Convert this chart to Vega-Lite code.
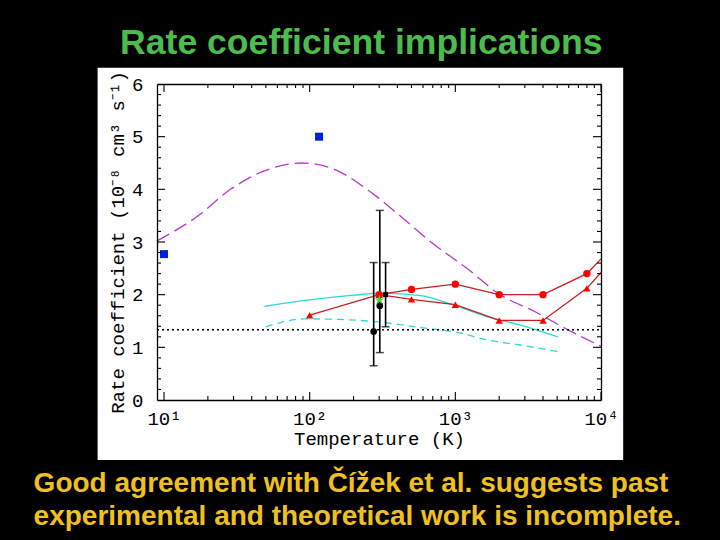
{
  "$schema": "https://vega.github.io/schema/vega-lite/v6.json",
  "background": "black",
  "padding": {"left": 33, "top": 26, "right": 60, "bottom": 20},
  "title": {"text": "Rate coefficient implications", "color": "#4cbc4c", "font": "Liberation Sans", "fontSize": 35.6, "fontWeight": "bold", "anchor": "middle", "frame": "bounds", "offset": 6, "dx": 4},
  "config": {"view": {"stroke": null}, "axis": {"grid": false}},
  "datasets": {
    "panel": [{"panel": "background"}],
    "xticks": [
      {"T": 10, "kind": "major"}, {"T": 100, "kind": "major"}, {"T": 1000, "kind": "major"}, {"T": 10000, "kind": "major"},
      {"T": 20, "kind": "minor"}, {"T": 30, "kind": "minor"}, {"T": 40, "kind": "minor"}, {"T": 50, "kind": "minor"},
      {"T": 60, "kind": "minor"}, {"T": 70, "kind": "minor"}, {"T": 80, "kind": "minor"}, {"T": 90, "kind": "minor"},
      {"T": 200, "kind": "minor"}, {"T": 300, "kind": "minor"}, {"T": 400, "kind": "minor"}, {"T": 500, "kind": "minor"},
      {"T": 600, "kind": "minor"}, {"T": 700, "kind": "minor"}, {"T": 800, "kind": "minor"}, {"T": 900, "kind": "minor"},
      {"T": 2000, "kind": "minor"}, {"T": 3000, "kind": "minor"}, {"T": 4000, "kind": "minor"}, {"T": 5000, "kind": "minor"},
      {"T": 6000, "kind": "minor"}, {"T": 7000, "kind": "minor"}, {"T": 8000, "kind": "minor"}, {"T": 9000, "kind": "minor"}
    ],
    "yticks": [
      {"v": 1, "kind": "major"}, {"v": 2, "kind": "major"}, {"v": 3, "kind": "major"}, {"v": 4, "kind": "major"}, {"v": 5, "kind": "major"},
      {"v": 0.2, "kind": "minor"}, {"v": 0.4, "kind": "minor"}, {"v": 0.6, "kind": "minor"}, {"v": 0.8, "kind": "minor"},
      {"v": 1.2, "kind": "minor"}, {"v": 1.4, "kind": "minor"}, {"v": 1.6, "kind": "minor"}, {"v": 1.8, "kind": "minor"},
      {"v": 2.2, "kind": "minor"}, {"v": 2.4, "kind": "minor"}, {"v": 2.6, "kind": "minor"}, {"v": 2.8, "kind": "minor"},
      {"v": 3.2, "kind": "minor"}, {"v": 3.4, "kind": "minor"}, {"v": 3.6, "kind": "minor"}, {"v": 3.8, "kind": "minor"},
      {"v": 4.2, "kind": "minor"}, {"v": 4.4, "kind": "minor"}, {"v": 4.6, "kind": "minor"}, {"v": 4.8, "kind": "minor"},
      {"v": 5.2, "kind": "minor"}, {"v": 5.4, "kind": "minor"}, {"v": 5.6, "kind": "minor"}, {"v": 5.8, "kind": "minor"}
    ],
    "magenta": [
      {"T": 8.95, "k": 3.02}, {"T": 16.8, "k": 3.48}, {"T": 28.6, "k": 4.0}, {"T": 48.9, "k": 4.35},
      {"T": 88, "k": 4.5}, {"T": 142, "k": 4.4}, {"T": 242, "k": 4.02}, {"T": 413, "k": 3.51},
      {"T": 680, "k": 3.0}, {"T": 1200, "k": 2.5}, {"T": 2030, "k": 2.0}, {"T": 3500, "k": 1.68},
      {"T": 5960, "k": 1.33}, {"T": 10000, "k": 1.02}
    ],
    "cyanSolid": [
      {"T": 49, "k": 1.78}, {"T": 100, "k": 1.9}, {"T": 200, "k": 1.99}, {"T": 316, "k": 2.03},
      {"T": 580, "k": 1.98}, {"T": 1000, "k": 1.79}, {"T": 1670, "k": 1.58}, {"T": 3000, "k": 1.4},
      {"T": 5050, "k": 1.2}
    ],
    "cyanDashed": [
      {"T": 50, "k": 1.39}, {"T": 92, "k": 1.54}, {"T": 160, "k": 1.53}, {"T": 277, "k": 1.49},
      {"T": 600, "k": 1.37}, {"T": 1000, "k": 1.29}, {"T": 1670, "k": 1.14}, {"T": 3000, "k": 1.03},
      {"T": 5050, "k": 0.92}
    ],
    "dotted": [{"T": 8.95, "k": 1.335}, {"T": 10000, "k": 1.335}],
    "redCircles": [
      {"T": 300, "k": 2.0}, {"T": 500, "k": 2.1}, {"T": 1000, "k": 2.2}, {"T": 2000, "k": 2.0},
      {"T": 4000, "k": 2.0}, {"T": 8000, "k": 2.4}, {"T": 10000, "k": 2.68}
    ],
    "redTriangles": [
      {"T": 100, "k": 1.61}, {"T": 300, "k": 2.0}, {"T": 500, "k": 1.91}, {"T": 1000, "k": 1.81},
      {"T": 2000, "k": 1.51}, {"T": 4000, "k": 1.51}, {"T": 8000, "k": 2.12}, {"T": 10000, "k": 2.42}
    ],
    "blueSquares": [{"T": 10, "k": 2.77}, {"T": 116, "k": 5.0}],
    "expts": [
      {"T": 275, "k": 1.3, "lo": 0.65, "hi": 2.61, "sym": "circle"},
      {"T": 303, "k": 1.79, "lo": 0.9, "hi": 3.6, "sym": "circle"},
      {"T": 332, "k": 2.0, "lo": 1.39, "hi": 2.61, "sym": "square"}
    ],
    "greenStar": [{"T": 301, "k": 1.9}]
  },
  "vconcat": [
    {
      "width": 444,
      "height": 316,
      "title": {
        "text": ["Good agreement with Čížek et al. suggests past", "experimental and theoretical work is incomplete."],
        "orient": "bottom", "anchor": "start", "frame": "bounds", "dx": -64, "offset": 10,
        "color": "#f0c020", "font": "Liberation Sans", "fontSize": 28, "fontWeight": "bold", "lineHeight": 33, "align": "left"
      },
      "resolve": {"axis": {"x": "independent", "y": "independent"}},
      "layer": [
        {
          "data": {"name": "panel"},
          "mark": {"type": "rect", "fill": "white"},
          "encoding": {
            "x": {"datum": 3.5, "type": "quantitative", "scale": {"type": "log", "domain": [8.95, 10000], "nice": false},
              "axis": {"orient": "bottom", "values": [10, 100, 1000, 10000], "ticks": false, "domain": true, "domainColor": "black", "domainWidth": 1.3,
                "labels": true, "labelExpr": "'10' + ['','¹','²','³','⁴'][round(log(datum.value)/LN10)]", "labelFont": "Liberation Mono", "labelFontSize": 19, "labelColor": "black", "labelPadding": 9, "labelFlush": false, "labelOverlap": false,
                "title": "Temperature (K)", "titleFont": "Liberation Mono", "titleFontSize": 19, "titleFontWeight": "normal", "titleColor": "black", "titlePadding": 1, "zindex": 1}},
            "x2": {"datum": 14200},
            "y": {"datum": -1.14, "type": "quantitative", "scale": {"domain": [0, 6], "nice": false, "zero": false},
              "axis": {"orient": "left", "values": [0, 1, 2, 3, 4, 5, 6], "ticks": false, "domain": true, "domainColor": "black", "domainWidth": 1.3,
                "labels": true, "labelFont": "Liberation Mono", "labelFontSize": 19, "labelColor": "black", "labelPadding": 14, "labelFlush": false, "labelOverlap": false,
                "title": "Rate coefficient (10⁻⁸ cm³ s⁻¹)", "titleFont": "Liberation Mono", "titleFontSize": 19, "titleFontWeight": "normal", "titleColor": "black", "titlePadding": 4, "zindex": 1}},
            "y2": {"datum": 6.31}
          }
        },
        {
          "data": {"name": "magenta"},
          "mark": {"type": "line", "color": "#b838c8", "strokeWidth": 1.3, "strokeDash": [14, 6], "interpolate": "monotone"},
          "encoding": {
            "x": {"field": "T", "type": "quantitative", "scale": {"type": "log", "domain": [8.95, 10000], "nice": false},
              "axis": {"orient": "top", "values": [10, 100, 1000, 10000], "ticks": false, "labels": false, "domain": true, "domainColor": "black", "domainWidth": 1.3, "title": null, "zindex": 1}},
            "y": {"field": "k", "type": "quantitative", "scale": {"domain": [0, 6], "nice": false, "zero": false},
              "axis": {"orient": "right", "values": [0, 1, 2, 3, 4, 5, 6], "ticks": false, "labels": false, "domain": true, "domainColor": "black", "domainWidth": 1.3, "title": null, "zindex": 1}}
          }
        },
        {
          "data": {"name": "cyanSolid"},
          "mark": {"type": "line", "color": "#2cd8d8", "strokeWidth": 1.3, "interpolate": "monotone"},
          "encoding": {
            "x": {"field": "T", "type": "quantitative", "scale": {"type": "log", "domain": [8.95, 10000], "nice": false}, "axis": null},
            "y": {"field": "k", "type": "quantitative", "scale": {"domain": [0, 6], "nice": false, "zero": false}, "axis": null}
          }
        },
        {
          "data": {"name": "cyanDashed"},
          "mark": {"type": "line", "color": "#2cd8d8", "strokeWidth": 1.3, "strokeDash": [7, 5], "interpolate": "monotone"},
          "encoding": {
            "x": {"field": "T", "type": "quantitative", "scale": {"type": "log", "domain": [8.95, 10000], "nice": false}, "axis": null},
            "y": {"field": "k", "type": "quantitative", "scale": {"domain": [0, 6], "nice": false, "zero": false}, "axis": null}
          }
        },
        {
          "data": {"name": "dotted"},
          "mark": {"type": "line", "color": "black", "strokeWidth": 1.6, "strokeDash": [2, 3]},
          "encoding": {
            "x": {"field": "T", "type": "quantitative", "scale": {"type": "log", "domain": [8.95, 10000], "nice": false}, "axis": null},
            "y": {"field": "k", "type": "quantitative", "scale": {"domain": [0, 6], "nice": false, "zero": false}, "axis": null}
          }
        },
        {
          "data": {"name": "redCircles"},
          "mark": {"type": "line", "color": "#c81e1e", "strokeWidth": 1.3},
          "encoding": {
            "x": {"field": "T", "type": "quantitative", "scale": {"type": "log", "domain": [8.95, 10000], "nice": false}, "axis": null},
            "y": {"field": "k", "type": "quantitative", "scale": {"domain": [0, 6], "nice": false, "zero": false}, "axis": null}
          }
        },
        {
          "data": {"name": "redTriangles"},
          "mark": {"type": "line", "color": "#c81e1e", "strokeWidth": 1.3},
          "encoding": {
            "x": {"field": "T", "type": "quantitative", "scale": {"type": "log", "domain": [8.95, 10000], "nice": false}, "axis": null},
            "y": {"field": "k", "type": "quantitative", "scale": {"domain": [0, 6], "nice": false, "zero": false}, "axis": null}
          }
        },
        {
          "data": {"name": "expts"},
          "mark": {"type": "errorbar", "ticks": {"size": 8, "thickness": 1.5, "color": "black"}, "rule": {"strokeWidth": 1.6, "color": "black"}},
          "encoding": {
            "x": {"field": "T", "type": "quantitative", "scale": {"type": "log", "domain": [8.95, 10000], "nice": false}, "axis": null},
            "y": {"field": "lo", "type": "quantitative", "scale": {"domain": [0, 6], "nice": false, "zero": false}, "axis": null},
            "y2": {"field": "hi"}
          }
        },
        {
          "data": {"name": "redCircles"},
          "transform": [{"filter": "datum.T < 10000"}],
          "mark": {"type": "point", "shape": "circle", "filled": true, "color": "#ff0000", "size": 55, "opacity": 1},
          "encoding": {
            "x": {"field": "T", "type": "quantitative", "scale": {"type": "log", "domain": [8.95, 10000], "nice": false}, "axis": null},
            "y": {"field": "k", "type": "quantitative", "scale": {"domain": [0, 6], "nice": false, "zero": false}, "axis": null}
          }
        },
        {
          "data": {"name": "redTriangles"},
          "transform": [{"filter": "datum.T < 10000"}],
          "mark": {"type": "point", "shape": "triangle-up", "filled": true, "color": "#ff0000", "size": 55, "opacity": 1},
          "encoding": {
            "x": {"field": "T", "type": "quantitative", "scale": {"type": "log", "domain": [8.95, 10000], "nice": false}, "axis": null},
            "y": {"field": "k", "type": "quantitative", "scale": {"domain": [0, 6], "nice": false, "zero": false}, "axis": null}
          }
        },
        {
          "data": {"name": "blueSquares"},
          "mark": {"type": "point", "shape": "square", "filled": true, "color": "#0020e0", "size": 64, "opacity": 1},
          "encoding": {
            "x": {"field": "T", "type": "quantitative", "scale": {"type": "log", "domain": [8.95, 10000], "nice": false}, "axis": null},
            "y": {"field": "k", "type": "quantitative", "scale": {"domain": [0, 6], "nice": false, "zero": false}, "axis": null}
          }
        },
        {
          "data": {"name": "expts"},
          "mark": {"type": "point", "filled": true, "color": "black", "size": 45, "opacity": 1},
          "encoding": {
            "x": {"field": "T", "type": "quantitative", "scale": {"type": "log", "domain": [8.95, 10000], "nice": false}, "axis": null},
            "y": {"field": "k", "type": "quantitative", "scale": {"domain": [0, 6], "nice": false, "zero": false}, "axis": null},
            "shape": {"field": "sym", "type": "nominal", "scale": {"domain": ["circle", "square"], "range": ["circle", "square"]}, "legend": null},
            "size": {"field": "sym", "type": "nominal", "scale": {"domain": ["circle", "square"], "range": [45, 25]}, "legend": null}
          }
        },
        {
          "data": {"name": "greenStar"},
          "mark": {"type": "point", "filled": true, "color": "#30e030", "size": 95, "opacity": 1, "shape": "M0,-1L0.2245,-0.309L0.951,-0.309L0.363,0.118L0.588,0.809L0,0.382L-0.588,0.809L-0.363,0.118L-0.951,-0.309L-0.2245,-0.309Z"},
          "encoding": {
            "x": {"field": "T", "type": "quantitative", "scale": {"type": "log", "domain": [8.95, 10000], "nice": false}, "axis": null},
            "y": {"field": "k", "type": "quantitative", "scale": {"domain": [0, 6], "nice": false, "zero": false}, "axis": null}
          }
        },
        {
          "data": {"name": "xticks"},
          "transform": [{"filter": "datum.kind == 'major'"}],
          "mark": {"type": "rule", "color": "black", "strokeWidth": 1.1, "y2Offset": -8},
          "encoding": {
            "x": {"field": "T", "type": "quantitative", "scale": {"type": "log", "domain": [8.95, 10000], "nice": false}, "axis": null},
            "y": {"datum": 0, "type": "quantitative", "scale": {"domain": [0, 6], "nice": false, "zero": false}, "axis": null},
            "y2": {"datum": 0}
          }
        },
        {
          "data": {"name": "xticks"},
          "transform": [{"filter": "datum.kind == 'minor'"}],
          "mark": {"type": "rule", "color": "black", "strokeWidth": 1.1, "y2Offset": -4},
          "encoding": {
            "x": {"field": "T", "type": "quantitative", "scale": {"type": "log", "domain": [8.95, 10000], "nice": false}, "axis": null},
            "y": {"datum": 0, "type": "quantitative", "scale": {"domain": [0, 6], "nice": false, "zero": false}, "axis": null},
            "y2": {"datum": 0}
          }
        },
        {
          "data": {"name": "xticks"},
          "transform": [{"filter": "datum.kind == 'major'"}],
          "mark": {"type": "rule", "color": "black", "strokeWidth": 1.1, "y2Offset": 8},
          "encoding": {
            "x": {"field": "T", "type": "quantitative", "scale": {"type": "log", "domain": [8.95, 10000], "nice": false}, "axis": null},
            "y": {"datum": 6, "type": "quantitative", "scale": {"domain": [0, 6], "nice": false, "zero": false}, "axis": null},
            "y2": {"datum": 6}
          }
        },
        {
          "data": {"name": "xticks"},
          "transform": [{"filter": "datum.kind == 'minor'"}],
          "mark": {"type": "rule", "color": "black", "strokeWidth": 1.1, "y2Offset": 4},
          "encoding": {
            "x": {"field": "T", "type": "quantitative", "scale": {"type": "log", "domain": [8.95, 10000], "nice": false}, "axis": null},
            "y": {"datum": 6, "type": "quantitative", "scale": {"domain": [0, 6], "nice": false, "zero": false}, "axis": null},
            "y2": {"datum": 6}
          }
        },
        {
          "data": {"name": "yticks"},
          "transform": [{"filter": "datum.kind == 'major'"}],
          "mark": {"type": "rule", "color": "black", "strokeWidth": 1.1, "x2Offset": 8},
          "encoding": {
            "y": {"field": "v", "type": "quantitative", "scale": {"domain": [0, 6], "nice": false, "zero": false}, "axis": null},
            "x": {"datum": 8.95, "type": "quantitative", "scale": {"type": "log", "domain": [8.95, 10000], "nice": false}, "axis": null},
            "x2": {"datum": 8.95}
          }
        },
        {
          "data": {"name": "yticks"},
          "transform": [{"filter": "datum.kind == 'minor'"}],
          "mark": {"type": "rule", "color": "black", "strokeWidth": 1.1, "x2Offset": 4},
          "encoding": {
            "y": {"field": "v", "type": "quantitative", "scale": {"domain": [0, 6], "nice": false, "zero": false}, "axis": null},
            "x": {"datum": 8.95, "type": "quantitative", "scale": {"type": "log", "domain": [8.95, 10000], "nice": false}, "axis": null},
            "x2": {"datum": 8.95}
          }
        },
        {
          "data": {"name": "yticks"},
          "transform": [{"filter": "datum.kind == 'major'"}],
          "mark": {"type": "rule", "color": "black", "strokeWidth": 1.1, "x2Offset": -8},
          "encoding": {
            "y": {"field": "v", "type": "quantitative", "scale": {"domain": [0, 6], "nice": false, "zero": false}, "axis": null},
            "x": {"datum": 10000, "type": "quantitative", "scale": {"type": "log", "domain": [8.95, 10000], "nice": false}, "axis": null},
            "x2": {"datum": 10000}
          }
        },
        {
          "data": {"name": "yticks"},
          "transform": [{"filter": "datum.kind == 'minor'"}],
          "mark": {"type": "rule", "color": "black", "strokeWidth": 1.1, "x2Offset": -4},
          "encoding": {
            "y": {"field": "v", "type": "quantitative", "scale": {"domain": [0, 6], "nice": false, "zero": false}, "axis": null},
            "x": {"datum": 10000, "type": "quantitative", "scale": {"type": "log", "domain": [8.95, 10000], "nice": false}, "axis": null},
            "x2": {"datum": 10000}
          }
        }
      ]
    }
  ]
}
